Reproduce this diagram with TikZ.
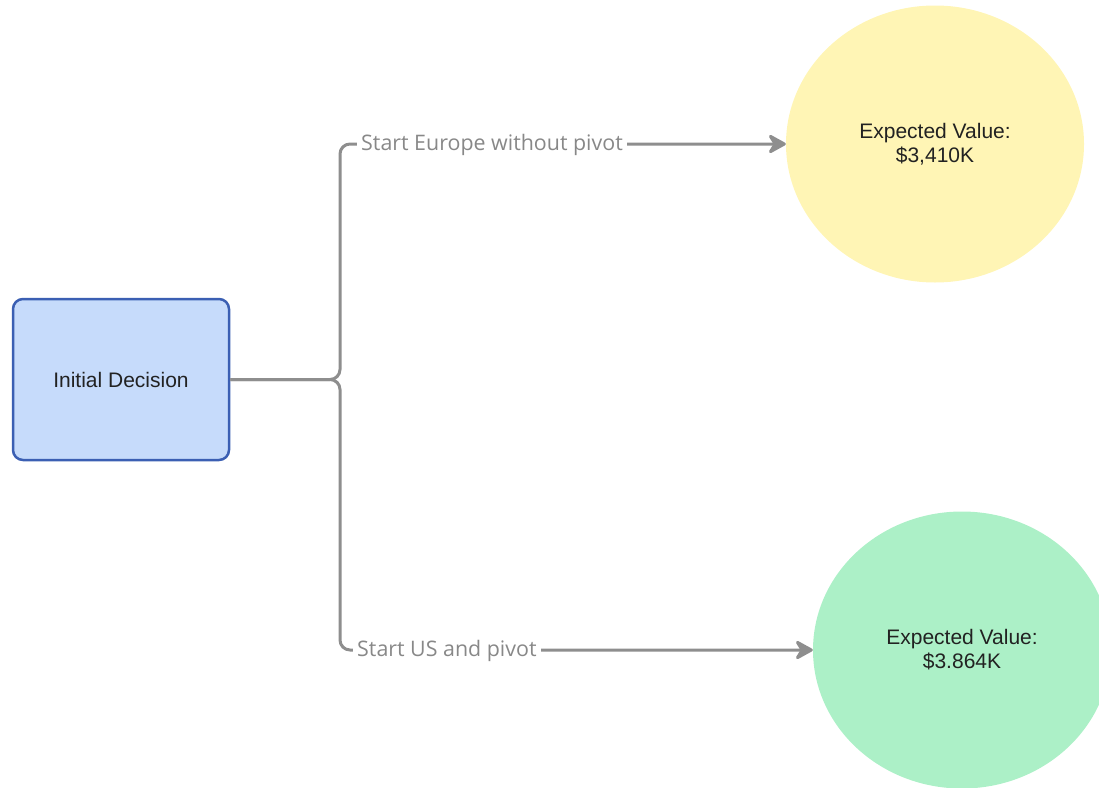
\documentclass[tikz,border=0pt]{standalone}
\usepackage{fontspec}
\setmainfont{Liberation Sans}
\newfontfamily\lblfont{Open Sans}
\usetikzlibrary{shapes.geometric,arrows.meta}
\definecolor{boxfill}{HTML}{C6DBFB}
\definecolor{boxdraw}{HTML}{3B5FB3}
\definecolor{yel}{HTML}{FFF5B5}
\definecolor{grn}{HTML}{ACF0C7}
\definecolor{txt}{HTML}{222222}
\definecolor{conncol}{HTML}{8E8E8E}
\definecolor{lblcol}{HTML}{888888}
\tikzset{
  decisionbox/.style={draw=boxdraw, fill=boxfill, line width=2.5pt, rounded corners=10pt,
    minimum width=216pt, minimum height=161pt, inner sep=0pt, text=txt,
    font=\fontsize{21}{24}\selectfont},
  outcome/.style={ellipse, draw=none, minimum width=298pt, minimum height=277pt, inner sep=0pt,
    align=center, text=txt, font=\fontsize{21}{24}\selectfont},
  conn/.style={draw=conncol, line width=3pt, rounded corners=10pt,
    -{Stealth[length=21pt, width=23pt, inset=7pt, round]}},
  lbl/.style={fill=white, text=lblcol, inner sep=4pt, anchor=west,
    font=\lblfont\fontsize{21.4}{24}\selectfont}
}
\begin{document}
\begin{tikzpicture}[x=1pt, y=-1pt]
\useasboundingbox (0,0) rectangle (1099,787);
\clip (0,0) rectangle (1099,787);
\node[decisionbox] (init) at (121,379.5) {Initial Decision};
\node[outcome, fill=yel] (eu) at (935,144) {Expected Value:\\\$3,410K};
\node[outcome, fill=grn] (us) at (962,650) {Expected Value:\\\$3.864K};
\coordinate (split) at (340,379.5);
\draw[conn] (init.east) -- (split) |- (eu.west);
\draw[conn] (init.east) -- (split) |- (us.west);
\node[lbl] (l1) at (357,145) {Start Europe without pivot};
\node[lbl] (l2) at (353,651) {Start US and pivot};
\end{tikzpicture}
\end{document}
